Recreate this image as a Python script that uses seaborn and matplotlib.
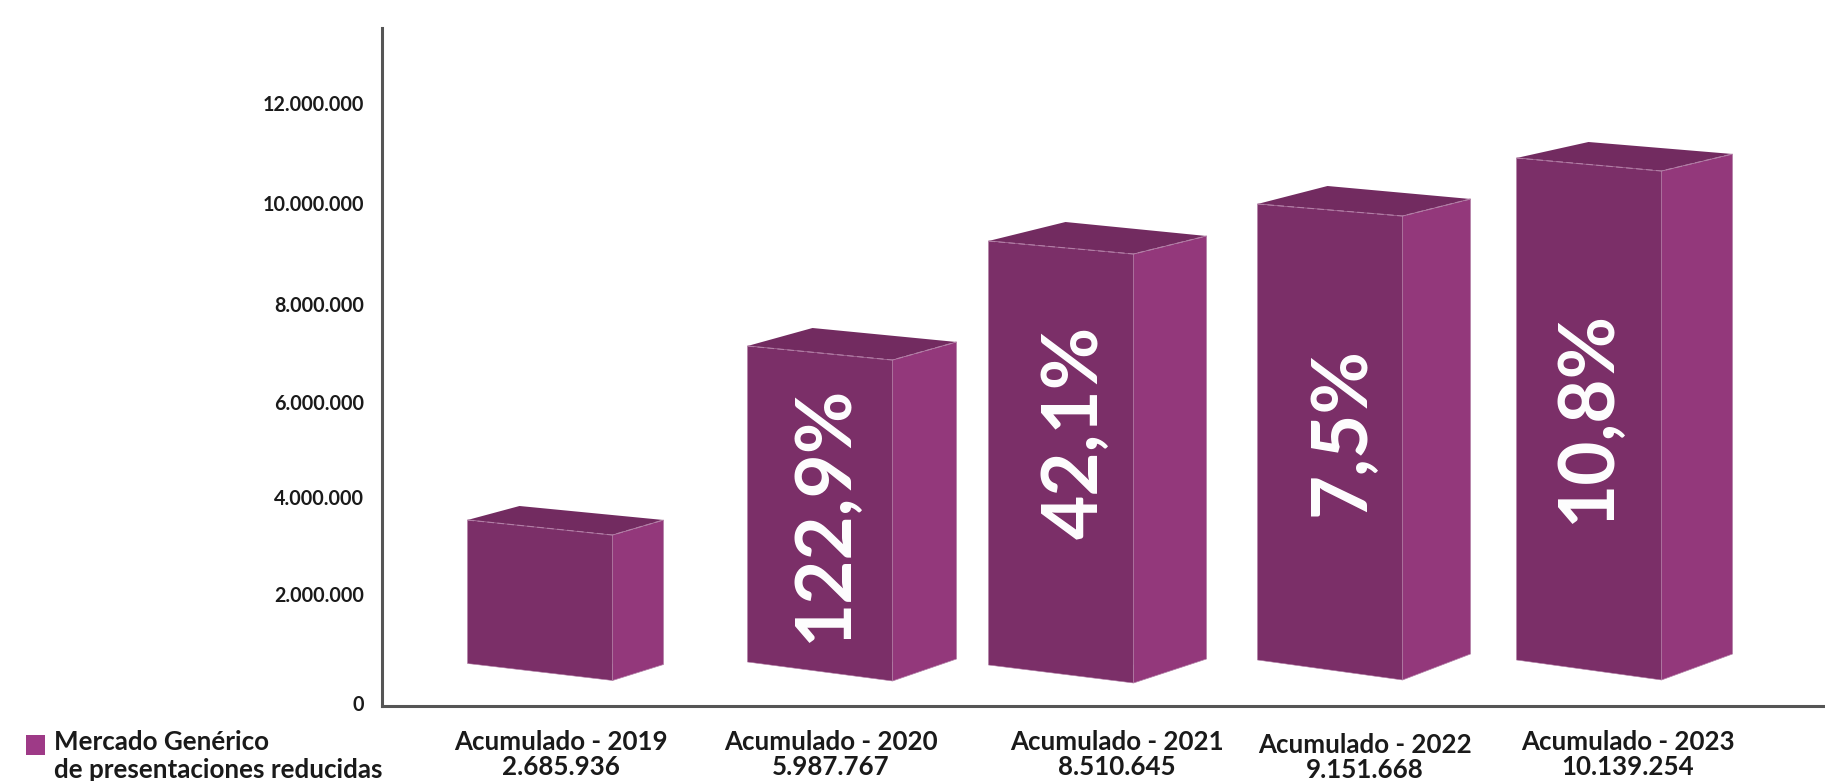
"""Acumulado anual del mercado genérico de presentaciones reducidas."""

import matplotlib

matplotlib.use("Agg")
import matplotlib.pyplot as plt
import pandas as pd
import seaborn as sns
from matplotlib.patches import Patch, Polygon

# valores
periodos = [
    "Acumulado - 2019",
    "Acumulado - 2020",
    "Acumulado - 2021",
    "Acumulado - 2022",
    "Acumulado - 2023",
]
acumulados = [2685936, 5987767, 8510645, 9151668, 10139254]
variaciones = ["", "122,9%", "42,1%", "7,5%", "10,8%"]
tope_barra = [3660000, 7140000, 9240000, 9980000, 10900000]
base_barra = [790000, 820000, 760000, 860000, 860000]
marcas_y = [0, 2180000, 4120000, 6020000, 7980000, 10000000, 12000000]
etiquetas_y = [
    "0",
    "2.000.000",
    "4.000.000",
    "6.000.000",
    "8.000.000",
    "10.000.000",
    "12.000.000",
]
serie = "Mercado Genérico\nde presentaciones reducidas"

# dibujo en pixeles de la imagen
ANCHO, ALTO = 1825, 781
EJE_X, EJE_TOP, EJE_BASE, CERO_Y = 382, 28, 706, 703
VALOR_POR_PX = 20000
centro_barra = [540, 820, 1061, 1330, 1589]
ancho_barra = 145
lado_dx = [51, 64, 73, 68, 71]
vertice_dx = [52, 65, 77, 70, 72]
vertice_dy = [14, 18, 19, 18, 16]
caida_sup = [15, 14, 13, 12, 13]
caida_inf = [17, 19, 18, 20, 20]
lado_sube_sup = [15, 18, 18, 17, 17]
lado_sube_inf = [16, 22, 24, 26, 26]
texto_x = [825, 1076, 1342, 1588]
texto_y = [513, 432, 432, 416]
etiqueta_x = [561, 831, 1117, 1365, 1628]

COLOR_FRENTE = "#7B2F68"
COLOR_LADO = "#93387B"
COLOR_TAPA = "#722B60"
COLOR_BORDE = "#B27FA6"
COLOR_EJE = "#555555"
COLOR_LEYENDA = "#9E3A87"


def y_px(px):
    return (CERO_Y - px) * VALOR_POR_PX


def dibujar_volumen(ax, barra, i):
    x0 = barra.get_x()
    x1 = x0 + barra.get_width()
    y0 = barra.get_y()
    y1 = y0 + barra.get_height()

    sup_der = y1 - caida_sup[i] * VALOR_POR_PX
    inf_der = y0 - caida_inf[i] * VALOR_POR_PX
    fondo_x = x1 + lado_dx[i]
    fondo_sup = sup_der + lado_sube_sup[i] * VALOR_POR_PX
    fondo_inf = inf_der + lado_sube_inf[i] * VALOR_POR_PX
    vertice = (x0 + vertice_dx[i], y1 + vertice_dy[i] * VALOR_POR_PX)

    ax.add_patch(Polygon(
        [(x0, y1), vertice, (fondo_x, fondo_sup), (x1, sup_der)],
        facecolor=COLOR_TAPA, edgecolor="none", zorder=2,
    ))
    ax.add_patch(Polygon(
        [(x0, y1), (x1, sup_der), (x1, inf_der), (x0, y0)],
        facecolor=COLOR_FRENTE, edgecolor=COLOR_BORDE, linewidth=0.4, zorder=2,
    ))
    ax.add_patch(Polygon(
        [(x1, sup_der), (fondo_x, fondo_sup), (fondo_x, fondo_inf), (x1, inf_der)],
        facecolor=COLOR_LADO, edgecolor=COLOR_BORDE, linewidth=0.5, zorder=2,
    ))
    ax.plot(
        [x0, x1, fondo_x], [y1, sup_der, fondo_sup],
        color=COLOR_BORDE, linewidth=0.8, linestyle=(0, (6, 3)), zorder=3,
    )


sns.set_theme(style="white")
plt.rcParams["font.family"] = ["Lato", "DejaVu Sans"]

df = pd.DataFrame({
    "centro": centro_barra,
    "altura": [t - b for t, b in zip(tope_barra, base_barra)],
})

fig = plt.figure(figsize=(ANCHO / 100, ALTO / 100), dpi=100, facecolor="white")
ax = fig.add_axes([
    EJE_X / ANCHO,
    1 - EJE_BASE / ALTO,
    1 - EJE_X / ANCHO,
    (EJE_BASE - EJE_TOP) / ALTO,
])

sns.barplot(
    data=df,
    x="centro",
    y="altura",
    native_scale=True,
    width=ancho_barra / 241,
    color=COLOR_FRENTE,
    saturation=1,
    bottom=base_barra,
    errorbar=None,
    ax=ax,
)

for i, barra in enumerate(ax.patches[:len(periodos)]):
    dibujar_volumen(ax, barra, i)

for x, y, texto in zip(texto_x, texto_y, variaciones[1:]):
    ax.text(
        x, y_px(y), texto, rotation=90, ha="center", va="center",
        color="white", fontsize=55, fontweight="bold", zorder=4,
    )

ax.set_xlim(EJE_X, ANCHO)
ax.set_ylim(y_px(EJE_BASE), y_px(EJE_TOP))
ax.set_xlabel("")
ax.set_ylabel("")

ax.set_yticks(marcas_y)
ax.set_yticklabels(etiquetas_y, fontsize=14.2, fontweight="bold", color="#1a1a1a")
ax.tick_params(axis="y", length=0, pad=13)

ax.set_xticks(etiqueta_x)
ax.set_xticklabels(
    [f"{p}\n{v:,}".replace(",", ".") for p, v in zip(periodos, acumulados)],
    fontsize=18.6, fontweight="bold", color="#1a1a1a", linespacing=1.03,
)
ax.tick_params(axis="x", length=0, pad=17.5)
ax.xaxis.get_major_ticks()[3].set_pad(19.5)

sns.despine(ax=ax)
for lado in ("left", "bottom"):
    ax.spines[lado].set_color(COLOR_EJE)
    ax.spines[lado].set_linewidth(2.2)

leyenda = fig.legend(
    handles=[Patch(facecolor=COLOR_LEYENDA, edgecolor="none", label=serie)],
    loc="upper left",
    bbox_to_anchor=(25.6 / ANCHO, 1 - 730 / ALTO),
    frameon=False,
    prop={"size": 18.7, "weight": "bold"},
    labelcolor="#1a1a1a",
    handlelength=0.76,
    handleheight=0.8,
    handletextpad=0.32,
    borderpad=0,
    borderaxespad=0,
    labelspacing=0,
)
# el cuadro va a la altura de la primera linea
cuadro = leyenda.get_patches()[0]
cuadro.set_y(cuadro.get_y() + 8.4)

fig.savefig("out.png", dpi=100, facecolor="white")
plt.close(fig)
